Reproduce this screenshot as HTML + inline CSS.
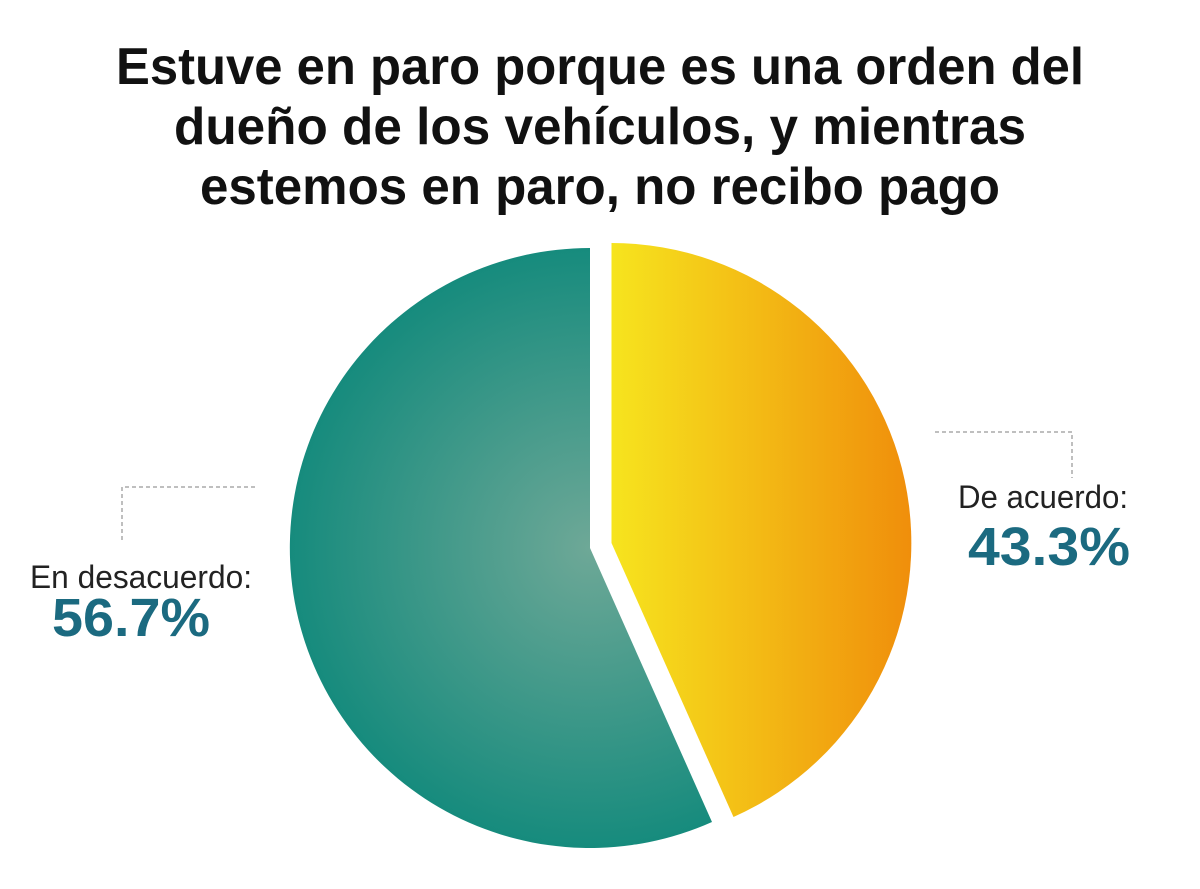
<!DOCTYPE html>
<html><head><meta charset="utf-8"><style>
html,body{margin:0;padding:0;background:#fff;}
svg{display:block;}
</style></head><body>
<svg width="1200" height="889" viewBox="0 0 1200 889" xmlns="http://www.w3.org/2000/svg">
<defs>
<radialGradient id="tg" cx="590" cy="548" r="300" gradientUnits="userSpaceOnUse">
<stop offset="0" stop-color="#6ea897"/>
<stop offset="1" stop-color="#168b7d"/>
</radialGradient>
<linearGradient id="yg" x1="612" y1="0" x2="912" y2="0" gradientUnits="userSpaceOnUse">
<stop offset="0" stop-color="#f6e41e"/>
<stop offset="1" stop-color="#f08e0b"/>
</linearGradient>
</defs>
<g font-family="'Liberation Sans Narrow','Liberation Sans',sans-serif" font-weight="bold" font-size="52" fill="#111" text-anchor="middle">
<text x="600" y="84" textLength="968" lengthAdjust="spacingAndGlyphs">Estuve en paro porque es una orden del</text>
<text x="600" y="144" textLength="852" lengthAdjust="spacingAndGlyphs">dueño de los vehículos, y mientras</text>
<text x="600" y="204" textLength="800" lengthAdjust="spacingAndGlyphs">estemos en paro, no recibo pago</text>
</g>
<path d="M590,548 L712,822 A300,300 0 1,1 590,248 Z" fill="url(#tg)"/>
<path d="M611.5,543 L611.5,243 A300,300 0 0,1 733.5,817 Z" fill="url(#yg)"/>
<g stroke="#aaa" stroke-width="1.5" stroke-dasharray="4,3" fill="none">
<path d="M935,432 H1072 V478"/>
<path d="M255,487 H122 V540"/>
</g>
<g font-family="'Liberation Sans',sans-serif">
<text x="1128" y="508" font-size="32" fill="#222" text-anchor="end" textLength="170" lengthAdjust="spacingAndGlyphs">De acuerdo:</text>
<text x="1130" y="565" font-size="54" font-weight="bold" fill="#1b6a80" text-anchor="end" textLength="162" lengthAdjust="spacingAndGlyphs">43.3%</text>
<text x="30" y="588" font-size="32" fill="#222" textLength="222" lengthAdjust="spacingAndGlyphs">En desacuerdo:</text>
<text x="52" y="636" font-size="54" font-weight="bold" fill="#1b6a80" textLength="158" lengthAdjust="spacingAndGlyphs">56.7%</text>
</g>
</svg>
</body></html>
